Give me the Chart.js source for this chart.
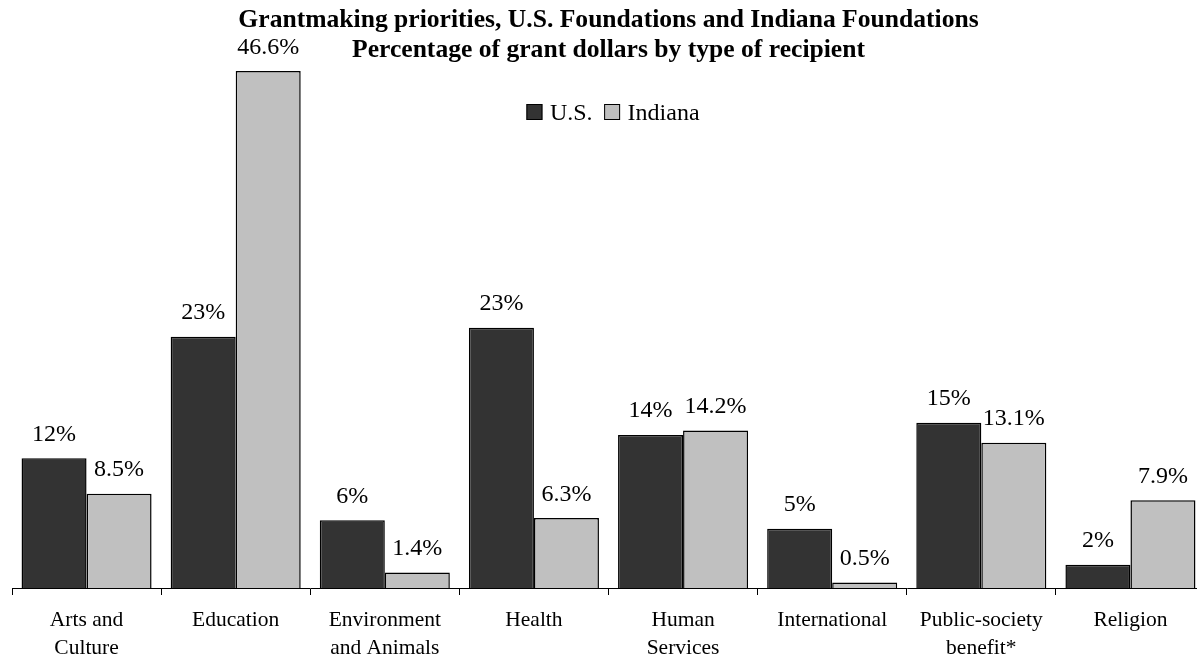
<!DOCTYPE html>
<html><head><meta charset="utf-8">
<script src="https://cdn.jsdelivr.net/npm/chart.js@4.4.0/dist/chart.umd.min.js"></script>
<style>
html,body{margin:0;padding:0;overflow:hidden;background:#fff;width:1197px;height:657px}
canvas{display:block}
</style></head>
<body>
<canvas id="c" width="1230" height="657" style="width:1230px;height:657px"></canvas>
<script>
// ---- data ----
const categories = [['Arts and','Culture'],['Education'],['Environment','and Animals'],['Health'],['Human','Services'],['International'],['Public-society','benefit*'],['Religion']];
const seriesNames = ['U.S.','Indiana'];
const usValues = [11.7, 22.65, 6.1, 23.45, 13.8, 5.35, 14.9, 2.1];
const indianaValues = [8.5, 46.6, 1.4, 6.3, 14.2, 0.5, 13.1, 7.9];
const titleLines = ['Grantmaking priorities, U.S. Foundations and Indiana Foundations','Percentage of grant dollars by type of recipient'];

// ---- style ----
const SERIF = "'Liberation Serif','Times New Roman',serif";
const colors = ['#333333', '#C0C0C0'];
const labelFormat = [v => Math.round(v) + '%', v => v.toFixed(1) + '%'];

const dataLabels = {
  id: 'dataLabels',
  afterDatasetsDraw(chart) {
    const ctx = chart.ctx;
    ctx.save();
    ctx.font = '24px ' + SERIF;
    ctx.fillStyle = '#000';
    ctx.textAlign = 'center';
    ctx.textBaseline = 'alphabetic';
    chart.data.datasets.forEach((ds, di) => {
      chart.getDatasetMeta(di).data.forEach((el, i) => {
        ctx.fillText(labelFormat[di](ds.data[i]), el.x, el.y - 17.5);
      });
    });
    ctx.restore();
  }
};

const floatLegend = {
  id: 'floatLegend',
  afterDraw(chart) {
    const ctx = chart.ctx;
    ctx.save();
    ctx.font = '24px ' + SERIF;
    const box = 16, gapText = 7.5, gapItem = 11.5;
    const items = chart.data.datasets.map(d => ({text: d.label, color: d.backgroundColor, w: ctx.measureText(d.label).width}));
    let total = 0;
    items.forEach((it, i) => { total += box + gapText + it.w + (i ? gapItem : 0); });
    let x = 613 - total / 2;
    const top = 104, base = 119.5;
    items.forEach((it, i) => {
      if (i) x += gapItem;
      ctx.fillStyle = it.color;
      ctx.fillRect(x, top, box, box);
      ctx.strokeStyle = '#000';
      ctx.lineWidth = 1;
      ctx.strokeRect(x + 0.5, top + 0.5, box - 1, box - 1);
      x += box + gapText;
      ctx.fillStyle = '#000';
      ctx.textBaseline = 'alphabetic';
      ctx.textAlign = 'left';
      ctx.fillText(it.text, x, base);
      x += it.w;
    });
    ctx.restore();
  }
};

new Chart(document.getElementById('c'), {
  type: 'bar',
  data: {
    labels: categories,
    datasets: [
      {label: seriesNames[0], data: usValues, backgroundColor: colors[0], borderColor: '#000', borderWidth: 1.5, categoryPercentage: 0.872, barPercentage: 1.0},
      {label: seriesNames[1], data: indianaValues, backgroundColor: colors[1], borderColor: '#000', borderWidth: 1.5, categoryPercentage: 0.872, barPercentage: 1.0}
    ]
  },
  options: {
    responsive: false,
    animation: false,
    devicePixelRatio: 1,
    layout: {padding: {left: 12, right: 25, top: 0, bottom: 0}},
    plugins: {
      legend: {display: false},
      tooltip: {enabled: false},
      title: {
        display: true,
        text: titleLines,
        color: '#000',
        font: {family: SERIF, size: 25.6, weight: 'bold', lineHeight: 30 / 25.6},
        padding: {top: 5.5, bottom: 0}
      }
    },
    scales: {
      x: {
        offset: true,
        grid: {offset: true, drawOnChartArea: false, drawTicks: true, tickLength: 7, color: '#000', lineWidth: 1},
        border: {display: true, color: '#000', width: 1},
        ticks: {color: '#000', font: {family: SERIF, size: 21.5, lineHeight: 1.32}, padding: 11, maxRotation: 0, autoSkip: false},
        afterFit(scale) { scale.height = 69; }
      },
      y: {
        display: false,
        min: 0,
        max: 47.1
      }
    }
  },
  plugins: [dataLabels, floatLegend]
});
</script>
</body></html>
